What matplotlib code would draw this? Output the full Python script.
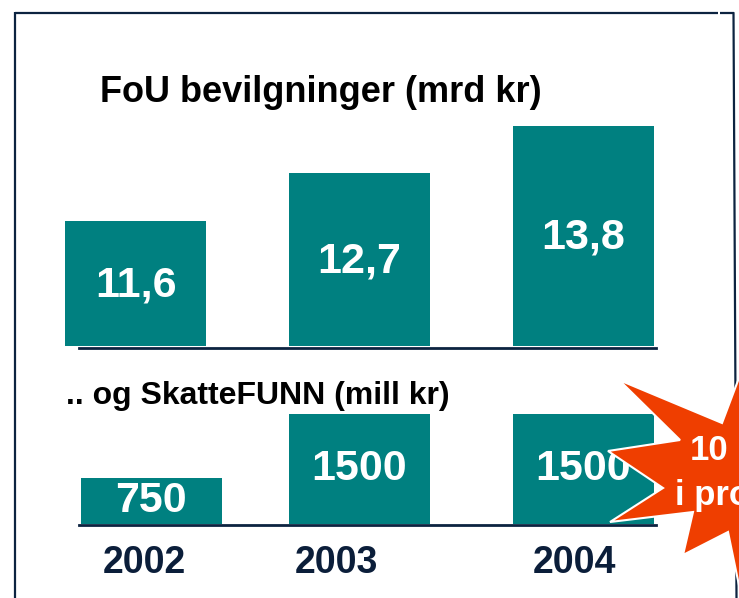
import matplotlib
matplotlib.use('Agg')
from matplotlib import pyplot as plt
from matplotlib.patches import Polygon

# data
years = ['2002', '2003', '2004']
fou_values = [11.6, 12.7, 13.8]            # mrd kr
fou_labels = ['11,6', '12,7', '13,8']
skf_values = [750, 1500, 1500]             # mill kr
skf_labels = ['750', '1500', '1500']

# layout (pixels / category units)
W, H = 739, 598
top_x = [0, 1, 2]
bot_x = [0.07, 1, 2]
year_x = [0.04, 0.895, 1.96]
bar_w = 0.63

teal = '#008080'
navy = '#0c2340'
plt.rcParams['font.family'] = ['Liberation Sans', 'DejaVu Sans']

fig = plt.figure(figsize=(W / 100, H / 100), dpi=100)
fig.patch.set_facecolor('white')

def px_axes(x0, y_top, x1, y_bot):
    return fig.add_axes([x0 / W, (H - y_bot) / H, (x1 - x0) / W, (y_bot - y_top) / H])

# x mapping: category 0 at pixel 135.5, 224 px per category
def xlim_for(x0, x1):
    return ((x0 - 135.5) / 224, (x1 - 135.5) / 224)

# --- FoU bars
ax1 = px_axes(40, 100, 700, 346)
ax1.bar(top_x, fou_values, width=bar_w, color=teal)
ax1.set_xlim(*xlim_for(40, 700))
ax1.set_ylim(8.705, 14.40)
for x, v, lab in zip(top_x, fou_values, fou_labels):
    ax1.text(x, (8.705 + v) / 2 - 0.04, lab, ha='center', va='center',
             color='white', fontsize=31, fontweight='bold')

# --- SkatteFUNN bars
ax2 = px_axes(40, 400, 700, 524)
ax2.bar(bot_x, skf_values, width=bar_w, color=teal)
ax2.set_xlim(*xlim_for(40, 700))
ax2.set_ylim(211, 1664)
for x, v, lab in zip(bot_x, skf_values, skf_labels):
    ax2.text(x, (211 + v) / 2 - 4, lab, ha='center', va='center',
             color='white', fontsize=31, fontweight='bold')

for ax, out in [(ax1, 1.5), (ax2, 0.8)]:
    ax.patch.set_alpha(0)
    for s in ['top', 'left', 'right']:
        ax.spines[s].set_visible(False)
    ax.spines['bottom'].set_position(('outward', out))
    ax.spines['bottom'].set_bounds((79 - 135.5) / 224, (656 - 135.5) / 224)
    ax.spines['bottom'].set_color(navy)
    ax.spines['bottom'].set_linewidth(2)
    ax.set_xticks([])
    ax.set_yticks([])

for x, yr in zip(year_x, years):
    ax2.annotate(yr, xy=(x, 0), xycoords=('data', 'axes fraction'),
                 xytext=(0, -28), textcoords='offset points',
                 ha='center', va='center', fontsize=27, fontweight='bold', color='#0b1e3a')

# --- overlay in pixel coordinates: frame, titles, star
ov = fig.add_axes([0, 0, 1, 1], zorder=10)
ov.set_xlim(0, W)
ov.set_ylim(H, 0)
ov.axis('off')

ov.plot([15, 718], [13, 13], color=navy, lw=1.6, solid_capstyle='butt')
ov.plot([720, 734], [13, 13], color=navy, lw=1.6, solid_capstyle='butt')
ov.plot([15, 15], [12.2, 598], color=navy, lw=1.6, solid_capstyle='butt')
ov.plot([733.5, 736.5], [12.2, 598], color=navy, lw=1.6, solid_capstyle='butt')

ov.text(100, 93, 'FoU bevilgninger (mrd kr)', fontsize=26, fontweight='bold',
        color='black', ha='left', va='center')
ov.text(66, 396, '.. og SkatteFUNN (mill kr)', fontsize=23, fontweight='bold',
        color='black', ha='left', va='center')

star = [(619, 380), (722, 423), (745, 362), (775, 460), (742, 600),
        (728, 532), (683, 555), (693, 512), (610, 522), (663, 488),
        (608, 451), (680, 440)]
ov.add_patch(Polygon(star, closed=True, facecolor='#ef3e00', edgecolor='white',
                     lw=1.5, zorder=5))
ov.text(690, 460, '10', fontsize=25, fontweight='bold', color='white',
        ha='left', va='baseline', zorder=6)
ov.text(675, 505, 'i prosent', fontsize=25, fontweight='bold', color='white',
        ha='left', va='baseline', zorder=6, clip_on=True)

fig.savefig('out.png', dpi=100)
